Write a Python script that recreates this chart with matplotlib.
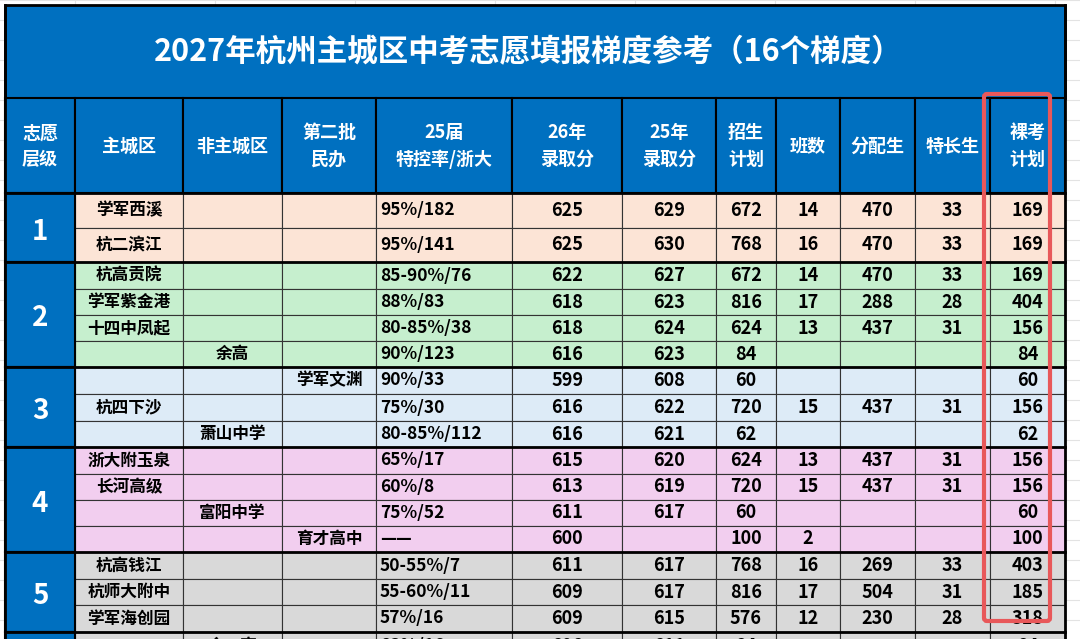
import matplotlib
matplotlib.use("Agg")
import matplotlib.pyplot as plt
import matplotlib.patches as patches

plt.rcParams['font.family'] = ['Noto Sans CJK SC', 'DejaVu Sans']

title = "2027年杭州主城区中考志愿填报梯度参考（16个梯度）"
headers = ["志愿\n层级", "主城区", "非主城区", "第二批\n民办", "25届\n特控率/浙大", "26年\n录取分",
           "25年\n录取分", "招生\n计划", "班数", "分配生", "特长生", "裸考\n计划"]

levels = [1, 1, 2, 2, 2, 2, 3, 3, 3, 4, 4, 4, 4, 5, 5, 5, 6]
main_city = ["学军西溪", "杭二滨江", "杭高贡院", "学军紫金港", "十四中凤起", "", "", "杭四下沙", "",
             "浙大附玉泉", "长河高级", "", "", "杭高钱江", "杭师大附中", "学军海创园", ""]
non_main = ["", "", "", "", "", "余高", "", "", "萧山中学", "", "", "富阳中学", "", "", "", "", "余二高"]
private = ["", "", "", "", "", "", "学军文渊", "", "", "", "", "", "育才高中", "", "", "", ""]
rate = ["95%/182", "95%/141", "85-90%/76", "88%/83", "80-85%/38", "90%/123", "90%/33", "75%/30",
        "80-85%/112", "65%/17", "60%/8", "75%/52", "——", "50-55%/7", "55-60%/11", "57%/16", "83%/16"]
score26 = ["625", "625", "622", "618", "618", "616", "599", "616", "616", "615", "613", "611", "600",
           "611", "609", "609", "606"]
score25 = ["629", "630", "627", "623", "624", "623", "608", "622", "621", "620", "619", "617", "",
           "617", "617", "615", "611"]
plan = ["672", "768", "672", "816", "624", "84", "60", "720", "62", "624", "720", "60", "100",
        "768", "816", "576", "84"]
classes = ["14", "16", "14", "17", "13", "", "", "15", "", "13", "15", "", "2", "16", "17", "12", ""]
allocated = ["470", "470", "470", "288", "437", "", "", "437", "", "437", "437", "", "", "269", "504", "230", ""]
special = ["33", "33", "33", "28", "31", "", "", "31", "", "31", "31", "", "", "33", "31", "28", ""]
naked = ["169", "169", "169", "404", "156", "84", "60", "156", "62", "156", "156", "60", "100",
         "403", "185", "318", "84"]

level_colors = {1: "#FCE4D6", 2: "#C6EFCE", 3: "#DDEBF7", 4: "#F2CEEF", 5: "#D9D9D9", 6: "#D9D9D9"}
blue = "#0070C0"

col_x = [5, 75, 183, 282, 376, 512, 622, 716, 776, 840, 915, 990, 1065]
row_y = [193, 228, 262, 289, 315, 341, 367, 394, 421, 447, 474, 500, 526, 552, 579, 605, 632, 660]

fig = plt.figure(figsize=(10.8, 6.39), dpi=100)
ax = fig.add_axes([0, 0, 1, 1])
ax.set_xlim(0, 1080)
ax.set_ylim(639, 0)
ax.axis('off')

# spreadsheet grid in the background
for gx in [75, 215, 355, 495, 635, 775, 915, 1055]:
    ax.plot([gx, gx], [0, 639], color="#E3E3E3", lw=0.8, zorder=0)
for gy in range(0, 639, 20):
    ax.plot([0, 1080], [gy, gy], color="#E3E3E3", lw=0.8, zorder=0)

# title
ax.add_patch(patches.Rectangle((5, 5), 1060, 93, facecolor=blue, edgecolor="black", lw=2, zorder=1))
ax.text(528, 52, title, color="white", fontsize=22, fontweight="heavy", ha="center", va="center", zorder=3)

# header
for i, h in enumerate(headers):
    x0, x1 = col_x[i], col_x[i + 1]
    ax.add_patch(patches.Rectangle((x0, 98), x1 - x0, 95, facecolor=blue, edgecolor="black", lw=1.5, zorder=1))
    ax.text((x0 + x1) / 2, 146, h, color="white", fontsize=13, fontweight="heavy",
            ha="center", va="center", linespacing=1.5, zorder=3)

# body
columns = [main_city, non_main, private, rate, score26, score25, plan, classes, allocated, special, naked]
for r in range(len(levels)):
    y0, y1 = row_y[r], row_y[r + 1]
    color = level_colors[levels[r]]
    for c in range(1, 12):
        x0, x1 = col_x[c], col_x[c + 1]
        ax.add_patch(patches.Rectangle((x0, y0), x1 - x0, y1 - y0, facecolor=color,
                                       edgecolor="#333333", lw=0.8, zorder=1))
        txt = columns[c - 1][r]
        if not txt:
            continue
        if c == 4:
            ax.text(x0 + 4, (y0 + y1) / 2, txt, fontsize=12.5, fontweight="bold",
                    ha="left", va="center", zorder=3)
        elif c <= 3:
            ax.text((x0 + x1) / 2, (y0 + y1) / 2, txt, fontsize=12, fontweight="heavy",
                    ha="center", va="center", zorder=3)
        else:
            ax.text((x0 + x1) / 2, (y0 + y1) / 2, txt, fontsize=13, fontweight="bold",
                    ha="center", va="center", zorder=3)

# level cells
for lv in sorted(set(levels)):
    idx = [i for i, l in enumerate(levels) if l == lv]
    y0, y1 = row_y[idx[0]], row_y[idx[-1] + 1]
    ax.add_patch(patches.Rectangle((5, y0), 70, y1 - y0, facecolor=blue, edgecolor="black", lw=1.5, zorder=1))
    if lv <= 5:
        ax.text(40, (y0 + y1) / 2 + 4, str(lv), color="white", fontsize=20, fontweight="heavy",
                ha="center", va="center", zorder=3)
    ax.plot([5, 1065], [y0, y0], color="black", lw=2, zorder=2)

# outer border
ax.plot([5, 5], [5, 639], color="black", lw=2, zorder=2)
ax.plot([1065, 1065], [5, 639], color="black", lw=2, zorder=2)

# red highlight
ax.add_patch(patches.FancyBboxPatch((984, 94), 66, 527, boxstyle="round,pad=0,rounding_size=3",
                                    facecolor="none", edgecolor="#E8585A", lw=3, zorder=4))

fig.savefig("out.png", dpi=100)
